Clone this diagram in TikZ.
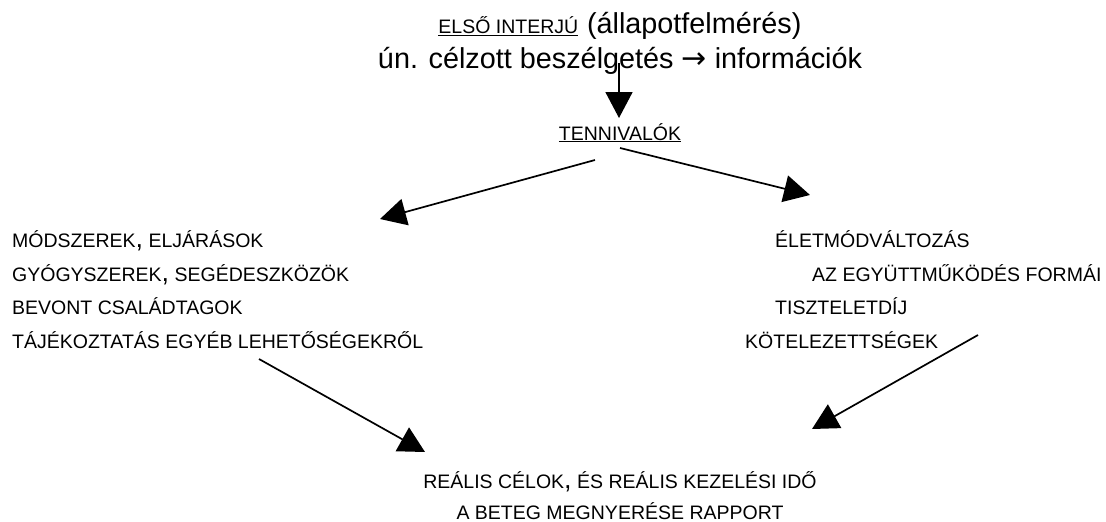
\documentclass[tikz,border=0pt]{standalone}
\usepackage{fontspec}
\setmainfont{Liberation Sans}
\newfontfamily\djv{DejaVu Sans}
\usetikzlibrary{arrows.meta}
\newcommand\hcomma{{\fontsize{27}{27}\selectfont,}}
\newcommand\smc{\fontsize{19.5}{19.5}\selectfont}
\newcommand\bigtxt{\fontsize{28.8}{28.8}\selectfont}
\tikzset{
  item/.style={anchor=base west, inner sep=0pt, font=\smc},
  ctr/.style={anchor=base, inner sep=0pt},
  arr/.style={line width=1.7pt, -{Triangle[length=26pt,width=27pt]}},
}
\begin{document}
\begin{tikzpicture}[x=1pt,y=-1pt]
\useasboundingbox[fill=white] (0,0) rectangle (1106,522);
% top
\node[ctr] (t1) at (620,34) {{\smc\underline{ELSŐ INTERJÚ}}\hspace{6pt} {\bigtxt (állapotfelmérés)}};
\node[ctr,font=\bigtxt] (t2) at (620,68) {ún. célzott beszélgetés {\fontsize{30}{30}\djv →} információk};
\node[ctr,font=\smc] (ten) at (620,140) {\underline{TENNIVALÓK}};
% left list
\node[item] (l1) at (12,247) {MÓDSZEREK\hcomma{} ELJÁRÁSOK};
\node[item] (l2) at (12,281) {GYÓGYSZEREK\hcomma{} SEGÉDESZKÖZÖK};
\node[item] (l3) at (12,314) {BEVONT CSALÁDTAGOK};
\node[item] (l4) at (12,348) {TÁJÉKOZTATÁS EGYÉB LEHETŐSÉGEKRŐL};
% right list
\node[item] (r1) at (775,247) {ÉLETMÓDVÁLTOZÁS};
\node[item] (r2) at (812,281) {AZ EGYÜTTMŰKÖDÉS FORMÁI};
\node[item] (r3) at (775,314) {TISZTELETDÍJ};
\node[item] (r4) at (745,348) {KÖTELEZETTSÉGEK};
% bottom
\node[ctr,font=\smc] (b1) at (620,488) {REÁLIS CÉLOK\hcomma{} ÉS REÁLIS KEZELÉSI IDŐ};
\node[ctr,font=\smc] (b2) at (620,519) {A BETEG MEGNYERÉSE RAPPORT};
% connector ends
\coordinate (d0) at (619,63);
\coordinate (d1) at (619,118);
\coordinate (ls) at (595,160);
\coordinate (le) at (380,219);
\coordinate (rs) at (620,148);
\coordinate (re) at (810,195);
\coordinate (lls) at (259,359);
\coordinate (lle) at (425,452);
\coordinate (lrs) at (978,335);
\coordinate (lre) at (812,429);
\draw[arr] (d0) -- (d1);
\draw[arr] (ls) -- (le);
\draw[arr] (rs) -- (re);
\draw[arr] (lls) -- (lle);
\draw[arr] (lrs) -- (lre);
\end{tikzpicture}
\end{document}
